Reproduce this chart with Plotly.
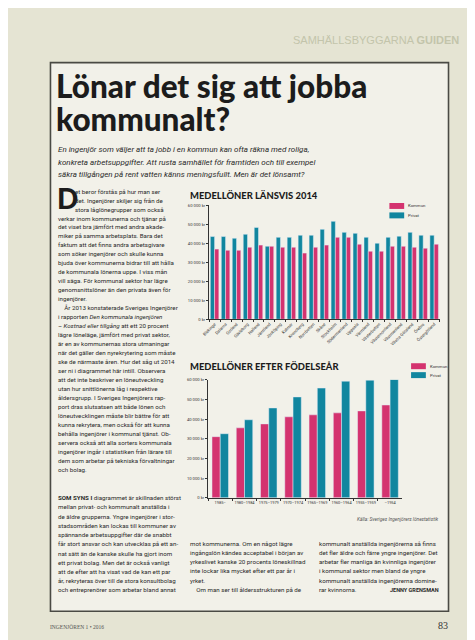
import plotly.graph_objects as go

W, H = 475, 640

# ---------------- data ----------------
lan = ["Blekinge", "Dalarna", "Gotland", "Gävleborg", "Halland", "Jämtland", "Jönköping",
       "Kalmar", "Kronoberg", "Norrbotten", "Skåne", "Stockholm", "Södermanland", "Uppsala",
       "Värmland", "Västerbotten", "Västernorrland", "Västmanland", "Västra Götaland",
       "Örebro", "Östergötland"]
lan_privat = [43500, 43500, 42600, 44700, 48300, 38400, 43100, 43100, 44200, 44200, 47300,
              51500, 45700, 45200, 43100, 40000, 43100, 43700, 45700, 44200, 44200]
lan_kommun = [36900, 36300, 36300, 37900, 39000, 38400, 37900, 37900, 34800, 37900, 39000,
              43100, 43100, 39500, 35800, 35800, 38400, 38400, 37900, 37400, 39500]

fodd = ["1985–", "1980–1984", "1975–1979", "1970–1974", "1965–1969", "1960–1964",
        "1955–1959", "–1954"]
fodd_kommun = [31100, 35600, 37600, 41200, 42200, 43200, 44200, 47200]
fodd_privat = [32600, 39700, 45700, 51300, 55800, 59300, 59800, 60200]

ytickvals = [0, 10000, 20000, 30000, 40000, 50000, 60000]
yticktext = ["0 kr", "10 000 kr", "20 000 kr", "30 000 kr", "40 000 kr", "50 000 kr", "60 000 kr"]

PINK = "#d4336f"
BLUE = "#11869f"
BODY = "Roboto, sans-serif"
HEAVY = "Lato, Roboto, sans-serif"
INK = "#2a2a2a"


def fx(x):
    return x / W


def fy(y):
    return 1 - y / H


fig = go.Figure()

# chart 1
fig.add_trace(go.Bar(x=lan, y=lan_privat, name="Privat", marker_color=BLUE,
                     xaxis="x", yaxis="y"))
fig.add_trace(go.Bar(x=lan, y=lan_kommun, name="Kommun", marker_color=PINK,
                     xaxis="x", yaxis="y"))
# chart 2
fig.add_trace(go.Bar(x=fodd, y=fodd_kommun, name="Kommun", marker_color=PINK,
                     xaxis="x2", yaxis="y2", width=0.34, offset=-0.34))
fig.add_trace(go.Bar(x=fodd, y=fodd_privat, name="Privat", marker_color=BLUE,
                     xaxis="x2", yaxis="y2", width=0.34, offset=0.0))

axcommon = dict(showgrid=False, zeroline=False, showline=True, linecolor="#333",
                linewidth=1, ticks="outside", tickcolor="#333", ticklen=2,
                tickfont=dict(size=4.2, family=BODY, color="#333"))

fig.update_layout(
    width=W, height=H, margin=dict(l=0, r=0, t=0, b=0),
    paper_bgcolor="#e5e4d3", plot_bgcolor="rgba(0,0,0,0)",
    barmode="group", showlegend=False,
    xaxis=dict(domain=[fx(197), fx(431)], anchor="y", type="category",
               tickangle=-45, tickson="boundaries", **axcommon),
    yaxis=dict(domain=[fy(310.7), fy(195.7)], anchor="x", range=[0, 60000],
               tickvals=ytickvals, ticktext=yticktext, **axcommon),
    xaxis2=dict(domain=[fx(196), fx(393)], anchor="y2", type="category",
                tickangle=0, tickson="boundaries", **axcommon),
    yaxis2=dict(domain=[fy(490.7), fy(371.7)], anchor="x2", range=[0, 60000],
                tickvals=ytickvals, ticktext=yticktext, **axcommon),
    bargap=0.22, bargroupgap=0,
)
fig.update_xaxes(selector=dict(anchor="y2"), tickfont_size=3.9)

shapes = []
# page box
shapes.append(dict(type="rect", xref="paper", yref="paper", x0=fx(36), x1=fx(440),
                   y0=fy(605), y1=fy(52), fillcolor="#f2f1e9",
                   line=dict(color="#4a4a44", width=1.6), layer="below"))

ann = []


def text(x, y, s, size=6.2, color=INK, family=BODY, xanchor="left", yanchor="middle",
         weight=None):
    f = dict(size=size, color=color, family=family)
    if weight:
        f["weight"] = weight
    ann.append(dict(x=fx(x), y=fy(y), xref="paper", yref="paper", text=s, showarrow=False,
                    xanchor=xanchor, yanchor=yanchor, align="left", borderpad=0, font=f))


def lines(x, y0, step, items, **kw):
    for i, s in enumerate(items):
        text(x, y0 + i * step, s, **kw)


def swatch(x, y, color, label):
    shapes.append(dict(type="rect", xref="paper", yref="paper", x0=fx(x), x1=fx(x + 15),
                       y0=fy(y + 3), y1=fy(y - 3), fillcolor=color, line=dict(width=0)))
    text(x + 18, y, label, size=4.3, color="#333")


# header
text(452, 29, "SAMHÄLLSBYGGARNA <b>GUIDEN</b>", size=11, color="#c3c4ab",
     family="Liberation Sans, Arial, sans-serif", xanchor="right")

# title
lines(41, 76, 33, ["Lönar det sig att jobba", "kommunalt?"], size=31.5,
      color="#1c1c1c", family=HEAVY, weight=900)

# intro
lines(43, 140, 12.5, [
    "<i>En ingenjör som väljer att ta jobb i en kommun kan ofta räkna med roliga,</i>",
    "<i>konkreta arbetsuppgifter. Att rusta samhället för framtiden och till exempel</i>",
    "<i>säkra tillgången på rent vatten känns meningsfullt. Men är det lönsamt?</i>",
], size=8.0)

# drop cap
text(42, 188, "D", size=28, color="#1c1c1c", family=HEAVY, weight=900)

STEP = 9.05
col1_top = [
    "et beror förstås på hur man ser",
    "det. Ingenjörer skiljer sig från de",
    "stora låglönegrupper som också",
]
col1 = [
    "verkar inom kommunerna och tjänar på",
    "det viset bra jämfört med andra akade-",
    "miker på samma arbetsplats. Bara det",
    "faktum att det finns andra arbetsgivare",
    "som söker ingenjörer och skulle kunna",
    "bjuda över kommunerna bidrar till att hålla",
    "de kommunala lönerna uppe. I viss mån",
    "vill säga. För kommunal sektor har lägre",
    "genomsnittslöner än den privata även för",
    "ingenjörer.",
    "\u2003År 2013 konstaterade Sveriges Ingenjörer",
    "i rapporten <i>Den kommunala ingenjören</i>",
    "<i>– Kostnad eller tillgång</i> att ett 20 procent",
    "lägre löneläge, jämfört med privat sektor,",
    "är en av kommunernas stora utmaningar",
    "när det gäller den nyrekrytering som måste",
    "ske de närmaste åren. Hur det såg ut 2014",
    "ser ni i diagrammet här intill. Observera",
    "att det inte beskriver en löneutveckling",
    "utan hur snittlönerna låg i respektive",
    "åldersgrupp. I Sveriges Ingenjörers rap-",
    "port dras slutsatsen att både lönen och",
    "löneutvecklingen måste blir bättre för att",
    "kunna rekrytera, men också för att kunna",
    "behålla ingenjörer i kommunal tjänst. Ob-",
    "servera också att alla sorters kommunala",
    "ingenjörer ingår i statistiken från lärare till",
    "dem som arbetar på tekniska förvaltningar",
    "och bolag.",
]
lines(60, 182, STEP, col1_top)
lines(43, 182 + 3 * STEP, STEP, col1)

STEP2 = 9.3
col1b = [
    "<b>SOM SYNS I</b> diagrammet är skillnaden störst",
    "mellan privat- och kommunalt anställda i",
    "de äldre grupperna. Yngre ingenjörer i stor-",
    "stadsområden kan lockas till kommuner av",
    "spännande arbetsuppgifter där de snabbt",
    "får stort ansvar och kan utvecklas på ett an-",
    "nat sätt än de kanske skulle ha gjort inom",
    "ett privat bolag. Men det är också vanligt",
    "att de efter att ha visat vad de kan ett par",
    "år, rekryteras över till de stora konsultbolag",
    "och entreprenörer som arbetar bland annat",
]
lines(43, 491, STEP2, col1b)

col2 = [
    "mot kommunerna. Om en något lägre",
    "ingångslön kändes acceptabel i början av",
    "yrkeslivet kanske 20 procents löneskillnad",
    "inte lockar lika mycket efter ett par år i",
    "yrket.",
    "\u2003Om man ser till åldersstrukturen på de",
]
lines(177, 537, STEP2, col2)

col3 = [
    "kommunalt anställda ingenjörerna så finns",
    "det fler äldre och färre yngre ingenjörer. Det",
    "arbetar fler manliga än kvinnliga ingenjörer",
    "i kommunal sektor men bland de yngre",
    "kommunalt anställda ingenjörerna domine-",
    "rar kvinnorna.",
]
lines(308, 537, STEP2, col3)
text(431, 537 + 5 * STEP2, "<b>JENNY GRENSMAN</b>", size=5.5, xanchor="right")

# chart titles
text(177, 185, "MEDELLÖNER LÄNSVIS 2014", size=9.4, color="#1c1c1c", family=HEAVY,
     weight=900)
text(177, 358, "MEDELLÖNER EFTER FÖDELSEÅR", size=9.4, color="#1c1c1c", family=HEAVY,
     weight=900)

# legends
swatch(380, 196.5, PINK, "Kommun")
swatch(380, 206, BLUE, "Privat")
swatch(402, 358, PINK, "Kommun")
swatch(402, 367, BLUE, "Privat")

# source
text(431, 512, "<i>Källa: Sveriges Ingenjörers lönestatistik</i>", size=4.8, color="#555",
     xanchor="right")

# footer
text(35, 621, "INGENJÖREN 1 • 2016", size=5.5, color="#555",
     family="Liberation Serif, serif")
text(440, 619, "83", size=10, color="#333", family="Liberation Serif, serif",
     xanchor="right")

fig.update_layout(annotations=ann, shapes=shapes)
fig.write_html("out.html")
